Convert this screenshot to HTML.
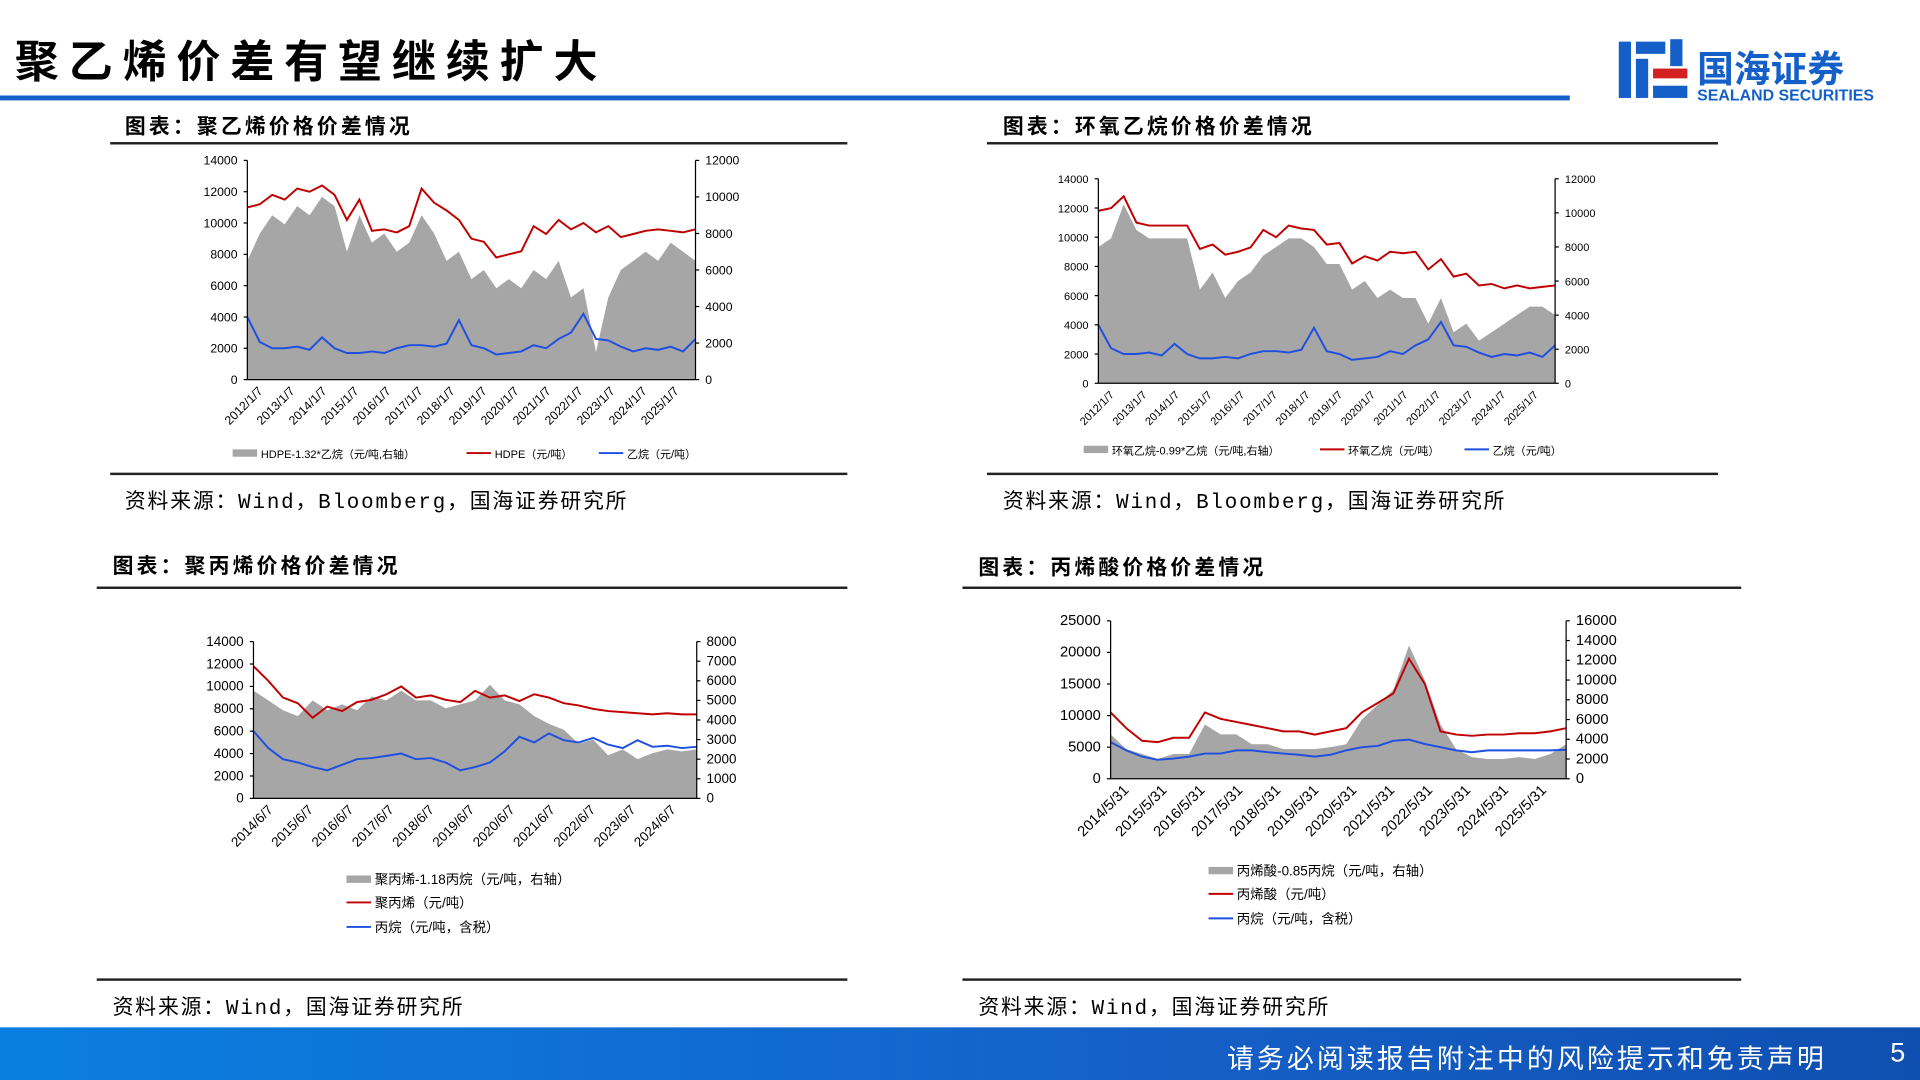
<!DOCTYPE html>
<html><head><meta charset="utf-8">
<style>
html,body{margin:0;padding:0;background:#fff;overflow:hidden}
#wrap{position:absolute;left:0;top:0;width:1568px;height:882px;transform:scale(1.22449);transform-origin:0 0;font-family:"Liberation Sans","Noto Sans CJK SC",sans-serif;color:#000}
.abs{position:absolute}
.sec{font-weight:bold;font-size:17px;letter-spacing:2.6px}
.src{font-size:17px;letter-spacing:1.5px;font-family:"Liberation Mono","Noto Sans CJK SC",monospace}
.hl{position:absolute;height:2px;background:#222}
</style></head><body>
<div id="wrap">
<div class="abs" style="left:12px;top:22px;font-size:36px;font-weight:bold;letter-spacing:8px">聚乙烯价差有望继续扩大</div>
<div class="abs" style="left:0;top:78px;width:1282px;height:4px;background:#1560c8"></div>
<div class="abs" style="left:1320px;top:30px;width:215px;height:56px">
 <svg width="60" height="54"><rect x="2" y="4" width="10" height="46" fill="#1560c8"/><rect x="16" y="4" width="24" height="10" fill="#1560c8"/><rect x="16" y="18" width="10" height="32" fill="#1560c8"/><rect x="30" y="26" width="28" height="8" fill="#d42020"/><rect x="30" y="40" width="28" height="10" fill="#1560c8"/><rect x="44" y="2" width="10" height="22" fill="#1560c8"/></svg>
 <div class="abs" style="left:66px;top:2px;font-size:30px;font-weight:bold;color:#1560c8;white-space:nowrap">国海证券</div>
 <div class="abs" style="left:66px;top:40px;font-size:13px;font-weight:bold;color:#1560c8;white-space:nowrap">SEALAND SECURITIES</div>
</div>

<div class="abs sec" style="left:102px;top:89px">图表：聚乙烯价格价差情况</div>
<div class="hl" style="left:90px;top:116px;width:602px"></div>
<div class="hl" style="left:90px;top:386px;width:602px"></div>
<div class="abs src" style="left:102px;top:395px">资料来源：Wind，Bloomberg，国海证券研究所</div>

<div class="abs sec" style="left:819px;top:89px">图表：环氧乙烷价格价差情况</div>
<div class="hl" style="left:806px;top:116px;width:597px"></div>
<div class="hl" style="left:806px;top:386px;width:597px"></div>
<div class="abs src" style="left:819px;top:395px">资料来源：Wind，Bloomberg，国海证券研究所</div>

<div class="abs sec" style="left:92px;top:448px">图表：聚丙烯价格价差情况</div>
<div class="hl" style="left:79px;top:479px;width:613px"></div>
<div class="hl" style="left:79px;top:799px;width:613px"></div>
<div class="abs src" style="left:92px;top:808px">资料来源：Wind，国海证券研究所</div>

<div class="abs sec" style="left:799px;top:449px">图表：丙烯酸价格价差情况</div>
<div class="hl" style="left:786px;top:479px;width:636px"></div>
<div class="hl" style="left:786px;top:799px;width:636px"></div>
<div class="abs src" style="left:799px;top:808px">资料来源：Wind，国海证券研究所</div>

<svg id="charts" class="abs" style="left:0;top:0" width="1568" height="882"></svg>

<div class="abs" style="left:0;top:839px;width:1568px;height:43px;background:linear-gradient(90deg,#0a7fe0,#1560c8 60%,#0f4fb0)">
 <div class="abs" style="right:76px;top:8px;color:#fff;font-size:22px;letter-spacing:2.5px;white-space:nowrap">请务必阅读报告附注中的风险提示和免责声明</div>
 <div class="abs" style="right:12px;top:8px;color:#fff;font-size:22px">5</div>
</div>
</div>
<script>
// Chart 1: polyethylene
const c1Labels=["2012/1/7","2013/1/7","2014/1/7","2015/1/7","2016/1/7","2017/1/7","2018/1/7","2019/1/7","2020/1/7","2021/1/7","2022/1/7","2023/1/7","2024/1/7","2025/1/7"];
const c1Gray=[6500,8000,9000,8500,9500,9000,10000,9500,7000,9000,7500,8000,7000,7500,9000,8000,6500,7000,5500,6000,5000,5500,5000,6000,5500,6500,4500,5000,1500,4500,6000,6500,7000,6500,7500,7000,6500];
const c1Red=[11000,11200,11800,11500,12200,12000,12400,11800,10200,11500,9500,9600,9400,9800,12200,11300,10800,10200,9000,8800,7800,8000,8200,9800,9300,10200,9600,10000,9400,9800,9100,9300,9500,9600,9500,9400,9600];
const c1Blue=[4000,2400,2000,2000,2100,1900,2700,2000,1700,1700,1800,1700,2000,2200,2200,2100,2300,3800,2200,2000,1600,1700,1800,2200,2000,2600,3000,4200,2600,2500,2100,1800,2000,1900,2100,1800,2600];
// Chart 2: ethylene oxide
const c2Labels=["2012/1/7","2013/1/7","2014/1/7","2015/1/7","2016/1/7","2017/1/7","2018/1/7","2019/1/7","2020/1/7","2021/1/7","2022/1/7","2023/1/7","2024/1/7","2025/1/7"];
const c2Gray=[8000,8500,10500,9000,8500,8500,8500,8500,5500,6500,5000,6000,6500,7500,8000,8500,8500,8000,7000,7000,5500,6000,5000,5500,5000,5000,3500,5000,3000,3500,2500,3000,3500,4000,4500,4500,4000];
const c2Red=[11800,12000,12800,11000,10800,10800,10800,10800,9200,9500,8800,9000,9300,10500,10000,10800,10600,10500,9500,9600,8200,8700,8400,9000,8900,9000,7800,8500,7300,7500,6700,6800,6500,6700,6500,6600,6700];
const c2Blue=[4000,2400,2000,2000,2100,1900,2700,2000,1700,1700,1800,1700,2000,2200,2200,2100,2300,3800,2200,2000,1600,1700,1800,2200,2000,2600,3000,4200,2600,2500,2100,1800,2000,1900,2100,1800,2600];
// Chart 3: polypropylene
const c3Labels=["2014/6/7","2015/6/7","2016/6/7","2017/6/7","2018/6/7","2019/6/7","2020/6/7","2021/6/7","2022/6/7","2023/6/7","2024/6/7"];
const c3Gray=[5500,5000,4500,4200,5000,4500,4800,4500,5200,5000,5500,5000,5000,4600,4800,5000,5800,5000,4800,4200,3800,3500,2800,3000,2200,2500,2000,2300,2500,2400,2500];
const c3Red=[11800,10500,9000,8500,7200,8200,7800,8600,8800,9300,10000,9000,9200,8800,8600,9600,9000,9200,8700,9300,9000,8500,8300,8000,7800,7700,7600,7500,7600,7500,7500];
const c3Blue=[6000,4500,3500,3200,2800,2500,3000,3500,3600,3800,4000,3500,3600,3200,2500,2800,3200,4200,5500,5000,5800,5200,5000,5400,4800,4500,5200,4600,4700,4500,4600];
// Chart 4: acrylic acid
const c4Labels=["2014/5/31","2015/5/31","2016/5/31","2017/5/31","2018/5/31","2019/5/31","2020/5/31","2021/5/31","2022/5/31","2023/5/31","2024/5/31","2025/5/31"];
const c4Gray=[4500,3000,2500,2000,2500,2500,5500,4500,4500,3500,3500,3000,3000,3000,3200,3500,6000,7500,9000,13500,10000,5500,3000,2200,2000,2000,2200,2000,2500,3500];
const c4Red=[10500,8000,6000,5800,6500,6500,10500,9500,9000,8500,8000,7500,7500,7000,7500,8000,10500,12000,13500,19000,15000,7500,7000,6800,7000,7000,7200,7200,7500,8000];
const c4Blue=[5800,4500,3500,3000,3200,3500,4000,4000,4500,4500,4200,4000,3800,3500,3800,4500,5000,5200,6000,6200,5500,5000,4500,4200,4500,4500,4500,4500,4500,4600];

const NS="http://www.w3.org/2000/svg";
const root=document.getElementById('charts');
function mk(tag,attrs,parent){const e=document.createElementNS(NS,tag);for(const k in attrs)e.setAttribute(k,attrs[k]);(parent||root).appendChild(e);return e;}
function drawChart(id,c){
 const g=mk('g',{});
 
 
 const {x0,x1,y0,y1}=c;
 const yL=v=>y1-(v/c.lMax)*(y1-y0);
 const yR=v=>y1-(v/c.rMax)*(y1-y0);
 const xs=(i,n)=>x0+i/(n-1)*(x1-x0);
 let d=`M${x0},${y1}`;
 c.gray.forEach((v,i)=>{d+=` L${xs(i,c.gray.length).toFixed(1)},${yR(v).toFixed(1)}`;});
 d+=` L${x1},${y1} Z`;
 const a=mk('path',{d,fill:'#a6a6a6'},g);
 
 
 [[c.red,'#c00000','red-price-line'],[c.blue,'#1f4fe0','blue-feed-line']].forEach(([arr,col,nm])=>{
  const p=arr.map((v,i)=>`${xs(i,arr.length).toFixed(1)},${yL(v).toFixed(1)}`).join(' ');
  const l=mk('polyline',{points:p,fill:'none',stroke:col,'stroke-width':1.6},g);
  
  
 });
 mk('line',{x1:x0,y1:y0,x2:x0,y2:y1,stroke:'#000','stroke-width':1},g);
 mk('line',{x1:x1,y1:y0,x2:x1,y2:y1,stroke:'#000','stroke-width':1},g);
 mk('line',{x1:x0,y1:y1,x2:x1,y2:y1,stroke:'#000','stroke-width':1},g);
 for(let v=0;v<=c.lMax;v+=c.lStep){const t=mk('text',{x:x0-8,y:yL(v)+3.5,'font-size':c.fs,'text-anchor':'end'},g);t.textContent=v;mk('line',{x1:x0-3,y1:yL(v),x2:x0,y2:yL(v),stroke:'#000'},g);}
 for(let v=0;v<=c.rMax;v+=c.rStep){const t=mk('text',{x:x1+8,y:yR(v)+3.5,'font-size':c.fs,'text-anchor':'start'},g);t.textContent=v;mk('line',{x1:x1,y1:yR(v),x2:x1+3,y2:yR(v),stroke:'#000'},g);}
 const n=c.labels.length;
 c.labels.forEach((lb,i)=>{const x=x0+(i+0.5)*(x1-x0)/n;const t=mk('text',{x:x,y:y1+10,'font-size':c.fs,'text-anchor':'end',transform:`rotate(-45 ${x} ${y1+10})`},g);t.textContent=lb;});
 c.legend.forEach(([x,y,type,text])=>{
  if(type==='gray')mk('rect',{x:x,y:y-4,width:20,height:6,fill:'#a6a6a6'},g);
  else mk('line',{x1:x,y1:y-1,x2:x+20,y2:y-1,stroke:type==='red'?'#c00000':'#1f4fe0','stroke-width':1.6},g);
  const t=mk('text',{x:x+23,y:y+3,'font-size':c.lfs},g);t.textContent=text;
  
  
 });
}
drawChart('chart1-polyethylene',{x0:202,x1:568,y0:131,y1:310,lMax:14000,lStep:2000,rMax:12000,rStep:2000,fs:10,lfs:9,labels:c1Labels,gray:c1Gray,red:c1Red,blue:c1Blue,
 legend:[[190,371,'gray','HDPE-1.32*乙烷（元/吨,右轴）'],[381,371,'red','HDPE（元/吨）'],[489,371,'blue','乙烷（元/吨）']]});
drawChart('chart2-ethylene-oxide',{x0:897,x1:1270,y0:146,y1:313,lMax:14000,lStep:2000,rMax:12000,rStep:2000,fs:9,lfs:9,labels:c2Labels,gray:c2Gray,red:c2Red,blue:c2Blue,
 legend:[[885,368,'gray','环氧乙烷-0.99*乙烷（元/吨,右轴）'],[1078,368,'red','环氧乙烷（元/吨）'],[1196,368,'blue','乙烷（元/吨）']]});
drawChart('chart3-polypropylene',{x0:207,x1:569,y0:524,y1:652,lMax:14000,lStep:2000,rMax:8000,rStep:1000,fs:11,lfs:11,labels:c3Labels,gray:c3Gray,red:c3Red,blue:c3Blue,
 legend:[[283,719,'gray','聚丙烯-1.18丙烷（元/吨，右轴）'],[283,738,'red','聚丙烯（元/吨）'],[283,758,'blue','丙烷（元/吨，含税）']]});
drawChart('chart4-acrylic-acid',{x0:907,x1:1279,y0:507,y1:636,lMax:25000,lStep:5000,rMax:16000,rStep:2000,fs:12,lfs:11,labels:c4Labels,gray:c4Gray,red:c4Red,blue:c4Blue,
 legend:[[987,712,'gray','丙烯酸-0.85丙烷（元/吨，右轴）'],[987,731,'red','丙烯酸（元/吨）'],[987,751,'blue','丙烷（元/吨，含税）']]});
</script>
</body></html>
